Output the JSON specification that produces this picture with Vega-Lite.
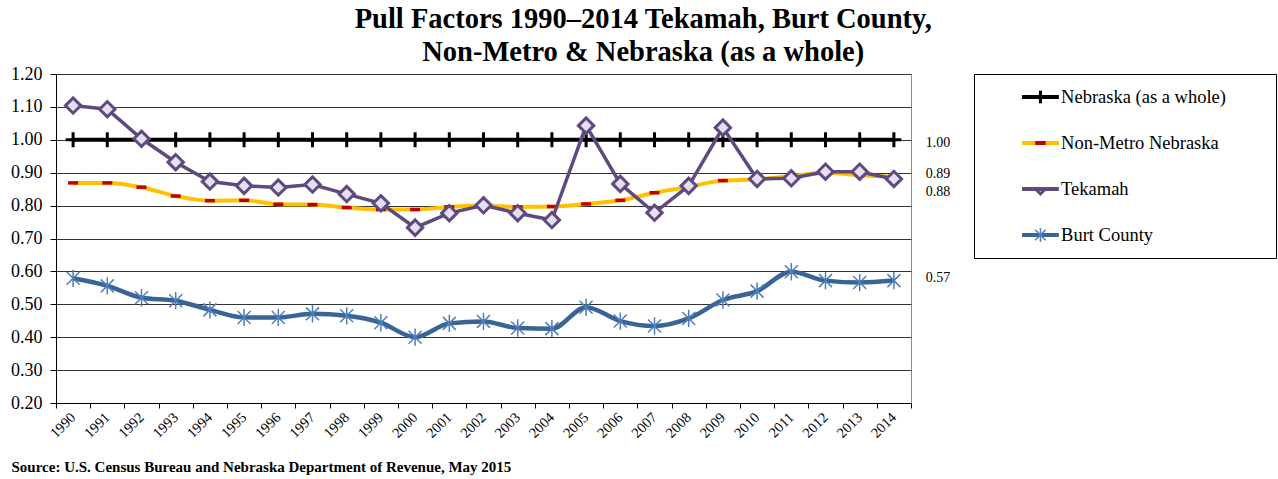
{
  "$schema": "https://vega.github.io/schema/vega-lite/v6.json",
  "background": "white",
  "padding": {"left": 10, "top": 4, "right": 1, "bottom": 0},
  "title": {
    "text": ["Pull Factors 1990–2014 Tekamah, Burt County,", "Non-Metro & Nebraska (as a whole)"],
    "anchor": "middle",
    "font": "Liberation Serif",
    "fontSize": 28.5,
    "fontWeight": "bold",
    "color": "black",
    "lineHeight": 33,
    "offset": -1.5
  },
  "datasets": {
    "pf": [
      {"year": "1990", "series": "Nebraska (as a whole)", "value": 1.0},
      {"year": "1991", "series": "Nebraska (as a whole)", "value": 1.0},
      {"year": "1992", "series": "Nebraska (as a whole)", "value": 1.0},
      {"year": "1993", "series": "Nebraska (as a whole)", "value": 1.0},
      {"year": "1994", "series": "Nebraska (as a whole)", "value": 1.0},
      {"year": "1995", "series": "Nebraska (as a whole)", "value": 1.0},
      {"year": "1996", "series": "Nebraska (as a whole)", "value": 1.0},
      {"year": "1997", "series": "Nebraska (as a whole)", "value": 1.0},
      {"year": "1998", "series": "Nebraska (as a whole)", "value": 1.0},
      {"year": "1999", "series": "Nebraska (as a whole)", "value": 1.0},
      {"year": "2000", "series": "Nebraska (as a whole)", "value": 1.0},
      {"year": "2001", "series": "Nebraska (as a whole)", "value": 1.0},
      {"year": "2002", "series": "Nebraska (as a whole)", "value": 1.0},
      {"year": "2003", "series": "Nebraska (as a whole)", "value": 1.0},
      {"year": "2004", "series": "Nebraska (as a whole)", "value": 1.0},
      {"year": "2005", "series": "Nebraska (as a whole)", "value": 1.0},
      {"year": "2006", "series": "Nebraska (as a whole)", "value": 1.0},
      {"year": "2007", "series": "Nebraska (as a whole)", "value": 1.0},
      {"year": "2008", "series": "Nebraska (as a whole)", "value": 1.0},
      {"year": "2009", "series": "Nebraska (as a whole)", "value": 1.0},
      {"year": "2010", "series": "Nebraska (as a whole)", "value": 1.0},
      {"year": "2011", "series": "Nebraska (as a whole)", "value": 1.0},
      {"year": "2012", "series": "Nebraska (as a whole)", "value": 1.0},
      {"year": "2013", "series": "Nebraska (as a whole)", "value": 1.0},
      {"year": "2014", "series": "Nebraska (as a whole)", "value": 1.0},
      {"year": "1990", "series": "Non-Metro Nebraska", "value": 0.869},
      {"year": "1991", "series": "Non-Metro Nebraska", "value": 0.869},
      {"year": "1992", "series": "Non-Metro Nebraska", "value": 0.856},
      {"year": "1993", "series": "Non-Metro Nebraska", "value": 0.829},
      {"year": "1994", "series": "Non-Metro Nebraska", "value": 0.815},
      {"year": "1995", "series": "Non-Metro Nebraska", "value": 0.816},
      {"year": "1996", "series": "Non-Metro Nebraska", "value": 0.804},
      {"year": "1997", "series": "Non-Metro Nebraska", "value": 0.803},
      {"year": "1998", "series": "Non-Metro Nebraska", "value": 0.794},
      {"year": "1999", "series": "Non-Metro Nebraska", "value": 0.788},
      {"year": "2000", "series": "Non-Metro Nebraska", "value": 0.788},
      {"year": "2001", "series": "Non-Metro Nebraska", "value": 0.796},
      {"year": "2002", "series": "Non-Metro Nebraska", "value": 0.8},
      {"year": "2003", "series": "Non-Metro Nebraska", "value": 0.796},
      {"year": "2004", "series": "Non-Metro Nebraska", "value": 0.797},
      {"year": "2005", "series": "Non-Metro Nebraska", "value": 0.805},
      {"year": "2006", "series": "Non-Metro Nebraska", "value": 0.816},
      {"year": "2007", "series": "Non-Metro Nebraska", "value": 0.839},
      {"year": "2008", "series": "Non-Metro Nebraska", "value": 0.857},
      {"year": "2009", "series": "Non-Metro Nebraska", "value": 0.876},
      {"year": "2010", "series": "Non-Metro Nebraska", "value": 0.88},
      {"year": "2011", "series": "Non-Metro Nebraska", "value": 0.89},
      {"year": "2012", "series": "Non-Metro Nebraska", "value": 0.9},
      {"year": "2013", "series": "Non-Metro Nebraska", "value": 0.892},
      {"year": "2014", "series": "Non-Metro Nebraska", "value": 0.888},
      {"year": "1990", "series": "Tekamah", "value": 1.104},
      {"year": "1991", "series": "Tekamah", "value": 1.093},
      {"year": "1992", "series": "Tekamah", "value": 1.003},
      {"year": "1993", "series": "Tekamah", "value": 0.932},
      {"year": "1994", "series": "Tekamah", "value": 0.873},
      {"year": "1995", "series": "Tekamah", "value": 0.86},
      {"year": "1996", "series": "Tekamah", "value": 0.855},
      {"year": "1997", "series": "Tekamah", "value": 0.864},
      {"year": "1998", "series": "Tekamah", "value": 0.835},
      {"year": "1999", "series": "Tekamah", "value": 0.807},
      {"year": "2000", "series": "Tekamah", "value": 0.733},
      {"year": "2001", "series": "Tekamah", "value": 0.777},
      {"year": "2002", "series": "Tekamah", "value": 0.801},
      {"year": "2003", "series": "Tekamah", "value": 0.777},
      {"year": "2004", "series": "Tekamah", "value": 0.756},
      {"year": "2005", "series": "Tekamah", "value": 1.043},
      {"year": "2006", "series": "Tekamah", "value": 0.866},
      {"year": "2007", "series": "Tekamah", "value": 0.778},
      {"year": "2008", "series": "Tekamah", "value": 0.86},
      {"year": "2009", "series": "Tekamah", "value": 1.037},
      {"year": "2010", "series": "Tekamah", "value": 0.881},
      {"year": "2011", "series": "Tekamah", "value": 0.883},
      {"year": "2012", "series": "Tekamah", "value": 0.903},
      {"year": "2013", "series": "Tekamah", "value": 0.903},
      {"year": "2014", "series": "Tekamah", "value": 0.881},
      {"year": "1990", "series": "Burt County", "value": 0.579},
      {"year": "1991", "series": "Burt County", "value": 0.556},
      {"year": "1992", "series": "Burt County", "value": 0.52},
      {"year": "1993", "series": "Burt County", "value": 0.511},
      {"year": "1994", "series": "Burt County", "value": 0.483},
      {"year": "1995", "series": "Burt County", "value": 0.46},
      {"year": "1996", "series": "Burt County", "value": 0.46},
      {"year": "1997", "series": "Burt County", "value": 0.471},
      {"year": "1998", "series": "Burt County", "value": 0.465},
      {"year": "1999", "series": "Burt County", "value": 0.444},
      {"year": "2000", "series": "Burt County", "value": 0.4},
      {"year": "2001", "series": "Burt County", "value": 0.442},
      {"year": "2002", "series": "Burt County", "value": 0.448},
      {"year": "2003", "series": "Burt County", "value": 0.428},
      {"year": "2004", "series": "Burt County", "value": 0.426},
      {"year": "2005", "series": "Burt County", "value": 0.491},
      {"year": "2006", "series": "Burt County", "value": 0.449},
      {"year": "2007", "series": "Burt County", "value": 0.434},
      {"year": "2008", "series": "Burt County", "value": 0.457},
      {"year": "2009", "series": "Burt County", "value": 0.513},
      {"year": "2010", "series": "Burt County", "value": 0.54},
      {"year": "2011", "series": "Burt County", "value": 0.599},
      {"year": "2012", "series": "Burt County", "value": 0.572},
      {"year": "2013", "series": "Burt County", "value": 0.566},
      {"year": "2014", "series": "Burt County", "value": 0.572}
    ],
    "series": [
      {"series": "Nebraska (as a whole)"},
      {"series": "Non-Metro Nebraska"},
      {"series": "Tekamah"},
      {"series": "Burt County"}
    ]
  },
  "spacing": 22,
  "hconcat": [
    {
      "width": 855,
      "height": 329,
      "view": {"stroke": "#8c8c8c", "strokeWidth": 1},
      "data": {"name": "pf"},
      "encoding": {
        "x": {
          "field": "year",
          "type": "ordinal",
          "scale": {"type": "band", "paddingInner": 0, "paddingOuter": 0},
          "axis": {
            "title": "Source: U.S. Census Bureau and Nebraska Department of Revenue, May 2015",
            "titleFont": "Liberation Serif",
            "titleFontSize": 15,
            "titleFontWeight": "bold",
            "titleColor": "black",
            "titleAnchor": "start",
            "titleAlign": "left",
            "titleBaseline": "alphabetic",
            "titleX": -45,
            "titleY": 68,
            "labelAngle": -45,
            "labelAlign": "right",
            "labelBaseline": "middle",
            "labelFont": "Liberation Serif",
            "labelFontSize": 14.5,
            "labelColor": "black",
            "labelPadding": 7,
            "labelOverlap": false,
            "tickBand": "extent",
            "tickColor": "black",
            "tickSize": 5,
            "domainColor": "black",
            "grid": false
          }
        },
        "y": {
          "field": "value",
          "type": "quantitative",
          "scale": {"domain": [0.2, 1.2], "nice": false, "zero": false},
          "axis": {
            "title": null,
            "values": [0.2, 0.3, 0.4, 0.5, 0.6, 0.7, 0.8, 0.9, 1.0, 1.1, 1.2],
            "format": ".2f",
            "grid": true,
            "gridColor": "#333333",
            "domainColor": "black",
            "tickColor": "black",
            "tickSize": 6,
            "labelFont": "Liberation Serif",
            "labelFontSize": 18,
            "labelColor": "black",
            "labelPadding": 8
          }
        }
      },
      "layer": [
        {
          "transform": [{"filter": "datum.series === 'Nebraska (as a whole)'"}],
          "mark": {"type": "line", "color": "black", "strokeWidth": 4}
        },
        {
          "transform": [{"filter": "datum.series === 'Nebraska (as a whole)'"}],
          "mark": {"type": "point", "shape": "M-1,0H1M0,-1V1", "size": 225, "stroke": "black", "strokeWidth": 3, "filled": false, "opacity": 1}
        },
        {
          "transform": [{"filter": "datum.series === 'Non-Metro Nebraska'"}],
          "mark": {"type": "line", "color": "#FFC000", "strokeWidth": 4, "interpolate": "monotone"}
        },
        {
          "transform": [{"filter": "datum.series === 'Non-Metro Nebraska'"}],
          "mark": {"type": "point", "shape": "M-1,0H1", "size": 100, "stroke": "#C00000", "strokeWidth": 3.5, "filled": false, "opacity": 1}
        },
        {
          "transform": [{"filter": "datum.series === 'Burt County'"}],
          "mark": {"type": "line", "color": "#3A6496", "strokeWidth": 4.5, "interpolate": "monotone"}
        },
        {
          "transform": [{"filter": "datum.series === 'Burt County'"}],
          "mark": {"type": "point", "shape": "M-0.75,-0.75L0.75,0.75M-0.75,0.75L0.75,-0.75M0,-1V1", "size": 300, "stroke": "#4F7FB8", "strokeWidth": 1.5, "filled": false, "opacity": 1}
        },
        {
          "transform": [{"filter": "datum.series === 'Tekamah'"}],
          "mark": {"type": "line", "color": "#5E4A7E", "strokeWidth": 3.5}
        },
        {
          "transform": [{"filter": "datum.series === 'Tekamah'"}],
          "mark": {"type": "point", "shape": "diamond", "size": 235, "fill": "#E6E0EE", "stroke": "#5E4A7E", "strokeWidth": 3, "filled": true, "opacity": 1, "fillOpacity": 1}
        },
        {
          "data": {"values": [{"label": "1.00", "value": 1.0}]},
          "mark": {"type": "text", "align": "center", "baseline": "middle", "dx": 44, "dy": 3, "font": "Liberation Serif", "fontSize": 14, "color": "black"},
          "encoding": {"x": {"datum": "2014"}, "text": {"field": "label"}}
        },
        {
          "data": {"values": [{"label": "0.89", "value": 0.888}]},
          "mark": {"type": "text", "align": "center", "baseline": "middle", "dx": 44, "dy": -3, "font": "Liberation Serif", "fontSize": 14, "color": "black"},
          "encoding": {"x": {"datum": "2014"}, "text": {"field": "label"}}
        },
        {
          "data": {"values": [{"label": "0.88", "value": 0.881}]},
          "mark": {"type": "text", "align": "center", "baseline": "middle", "dx": 44, "dy": 13, "font": "Liberation Serif", "fontSize": 14, "color": "black"},
          "encoding": {"x": {"datum": "2014"}, "text": {"field": "label"}}
        },
        {
          "data": {"values": [{"label": "0.57", "value": 0.572}]},
          "mark": {"type": "text", "align": "center", "baseline": "middle", "dx": 44, "dy": -3, "font": "Liberation Serif", "fontSize": 14, "color": "black"},
          "encoding": {"x": {"datum": "2014"}, "text": {"field": "label"}}
        }
      ]
    },
    {
      "width": 302,
      "height": 184,
      "view": {"stroke": "black", "strokeWidth": 1},
      "data": {"name": "series"},
      "encoding": {
        "y": {
          "field": "series",
          "type": "nominal",
          "sort": ["Nebraska (as a whole)", "Non-Metro Nebraska", "Tekamah", "Burt County"],
          "scale": {"type": "point", "padding": 0.5},
          "axis": null
        }
      },
      "layer": [
        {
          "mark": {"type": "rule", "strokeWidth": 4},
          "encoding": {
            "x": {"datum": 0.159, "type": "quantitative", "scale": {"domain": [0, 1], "nice": false, "zero": false}, "axis": null},
            "x2": {"datum": 0.281},
            "color": {
              "field": "series",
              "type": "nominal",
              "scale": {
                "domain": ["Nebraska (as a whole)", "Non-Metro Nebraska", "Tekamah", "Burt County"],
                "range": ["black", "#FFC000", "#5E4A7E", "#3A6496"]
              },
              "legend": null
            }
          }
        },
        {
          "transform": [{"filter": "datum.series === 'Nebraska (as a whole)'"}],
          "mark": {"type": "point", "shape": "M0,-1V1", "size": 160, "stroke": "black", "strokeWidth": 3, "filled": false, "opacity": 1},
          "encoding": {"x": {"datum": 0.22, "type": "quantitative"}}
        },
        {
          "transform": [{"filter": "datum.series === 'Non-Metro Nebraska'"}],
          "mark": {"type": "point", "shape": "M-1,0H1", "size": 110, "stroke": "#C00000", "strokeWidth": 4, "filled": false, "opacity": 1},
          "encoding": {"x": {"datum": 0.22, "type": "quantitative"}}
        },
        {
          "transform": [{"filter": "datum.series === 'Tekamah'"}],
          "mark": {"type": "point", "shape": "M-1,0L0,1L1,0", "size": 100, "stroke": "#5E4A7E", "strokeWidth": 3, "filled": false, "opacity": 1},
          "encoding": {"x": {"datum": 0.22, "type": "quantitative"}}
        },
        {
          "transform": [{"filter": "datum.series === 'Burt County'"}],
          "mark": {"type": "point", "shape": "M-0.75,-0.75L0.75,0.75M-0.75,0.75L0.75,-0.75M0,-1V1", "size": 200, "stroke": "#4F7FB8", "strokeWidth": 1.5, "filled": false, "opacity": 1},
          "encoding": {"x": {"datum": 0.22, "type": "quantitative"}}
        },
        {
          "mark": {"type": "text", "align": "left", "baseline": "middle", "dx": 1, "font": "Liberation Serif", "fontSize": 18.5, "color": "black"},
          "encoding": {
            "x": {"datum": 0.285, "type": "quantitative"},
            "text": {"field": "series"}
          }
        }
      ]
    }
  ],
  "config": {
    "font": "Liberation Serif",
    "text": {"font": "Liberation Serif"}
  }
}
